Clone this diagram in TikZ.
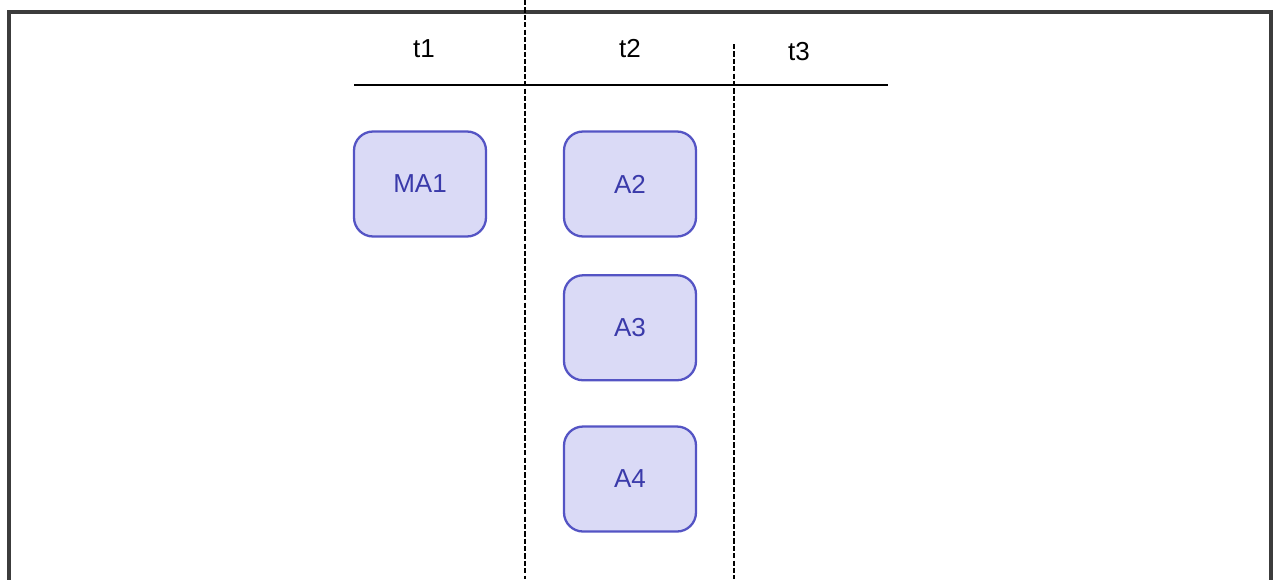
\documentclass[tikz,border=0pt]{standalone}
\usepackage{fontspec}
\setmainfont{Liberation Sans}
\usepackage{tikz}
\usetikzlibrary{arrows}
\usetikzlibrary{positioning}
\definecolor{boxfill}{RGB}{218,218,246}
\definecolor{boxline}{RGB}{84,84,196}
\definecolor{boxtext}{RGB}{58,58,170}
\definecolor{framegray}{RGB}{60,60,60}

\begin{document}
\begin{tikzpicture}[x=0.02cm, y=-0.02cm,
				   box/.style={rectangle, rounded corners=0.38cm, draw=boxline, line width=1.3pt, fill=boxfill,
				               minimum width=2.64cm, minimum height=2.1cm, text=boxtext,
				               font=\fontsize{14.8}{17}\selectfont},
				   tlabel/.style={font=\fontsize{14.8}{17}\selectfont, text=black},
				   sep/.style={dashed, dash pattern=on 3pt off 1.2pt, line width=1pt}]
\useasboundingbox (0,0) rectangle (1274,579);
\draw[framegray, line width=2pt] (9,600) -- (9,12) -- (1271,12) -- (1271,600);
\node[tlabel] (t1) at (424,49) {t1};
\node[tlabel] (t2) at (630,49) {t2};
\node[tlabel] (t3) at (799,52) {t3};
\draw[line width=1.5pt] (354,85) -- (888,85);
\coordinate (s1top) at (525,0);
\coordinate (s1bot) at (525,579);
\coordinate (s2top) at (734,44);
\coordinate (s2bot) at (734,579);
\draw[sep] (s1top) -- (s1bot);
\draw[sep] (s2top) -- (s2bot);
\node[box] (ma1) at (420,184) {MA1};
\node[box] (a2) at (630,184) {A2};
\node[box, below=0.73cm of a2] (a3) {A3};
\node[box, below=0.88cm of a3] (a4) {A4};
\end{tikzpicture}
\end{document}
